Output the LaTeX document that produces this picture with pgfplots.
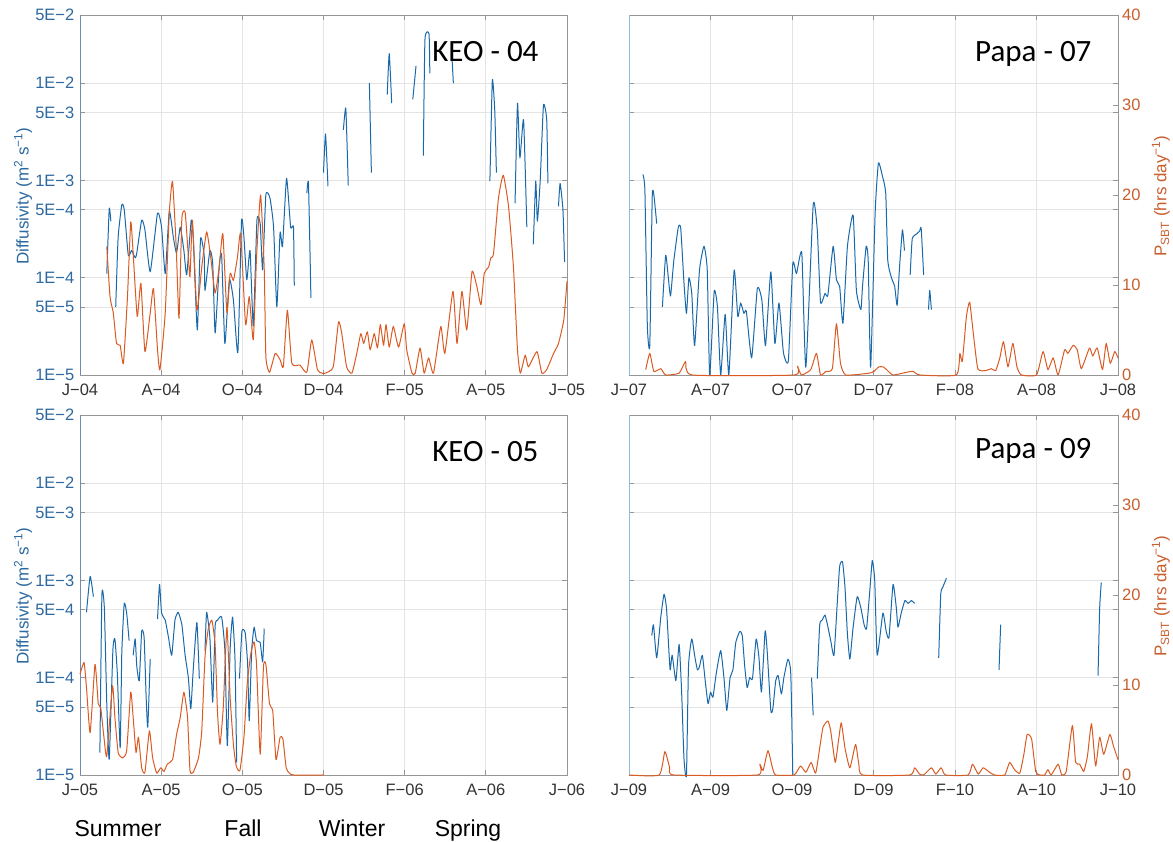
\documentclass[border=0pt]{standalone}
\usepackage{fontspec}
\setmainfont{Liberation Sans}
\newfontfamily\titlefont{Carlito}
\usepackage{pgfplots}
\pgfplotsset{compat=1.18}
\definecolor{mblue}{RGB}{25,105,170}
\definecolor{mtick}{RGB}{45,105,160}
\definecolor{morange}{RGB}{217,90,35}
\definecolor{otick}{RGB}{200,95,45}
\definecolor{gridc}{RGB}{228,228,228}
\definecolor{axc}{RGB}{150,150,150}
\definecolor{lblue}{RGB}{140,185,220}
\definecolor{sblue}{RGB}{110,140,175}
\newcommand\tks{\fontsize{16.5}{18}\selectfont}
\pgfplotsset{
  dcosm/.style={scale only axis, height=360pt, xmin=0, xmax=12,
    xtick={0,2,4,6,8,10,12},
    xmajorgrids, ymajorgrids,
    major grid style={draw=gridc, line width=0.7pt},
    axis line style={draw=axc, line width=0.9pt},
    major tick style={draw=axc, line width=0.7pt},
    major tick length=5pt, tick align=inside,
    yticklabel style={font=\tks, text=mtick, inner sep=1pt, xshift=-4.5pt},
    xticklabel style={font=\tks, text=black!80, yshift=-8pt, inner sep=1pt},
    unbounded coords=jump, clip=false},
  bluel/.style={line width=1.0pt, line join=round, color=mblue, smooth, tension=0.3},
  orl/.style={line width=1.0pt, line join=round, color=morange, smooth, tension=0.3},
  ocosm/.style={scale only axis, height=360pt, xmin=0, xmax=12, ymin=0, ymax=40, clip=false},
  prcosm/.style={ytick={0,10,20,30,40}, yticklabels={0,10,20,30,40},
    yticklabel style={font=\tks, text=otick, inner sep=1pt, xshift=3pt},
    axis line style={draw=axc, line width=0.9pt},
    major tick style={draw=axc, line width=0.7pt},
    major tick length=5pt, tick align=inside},
}
\begin{document}
\begin{tikzpicture}[x=1pt,y=1pt]
\useasboundingbox (0,0) rectangle (1173,842);
% ---------------- KEO - 04 ----------------
\begin{axis}[dcosm, ymode=log, ymin=1e-5, ymax=5e-2,
  ytick={1e-5,5e-5,1e-4,5e-4,1e-3,5e-3,1e-2,5e-2},
  yticklabels={1E−5,5E−5,1E−4,5E−4,1E−3,5E−3,1E−2,5E−2}, yminorticks=false,
  at={(80pt,467pt)}, anchor=south west, width=487pt,
  xticklabels={J−04,A−04,O−04,D−04,F−05,A−05,J−05}]
\draw[sblue, line width=0.9pt] (rel axis cs:0,0) -- (rel axis cs:0,1);
\addplot[bluel] coordinates {(0.66,1.1e-4)(0.72,5.1e-4)(0.76,3.8e-4)(0.80,nan)
(0.88,5.0e-5)(0.94,2.6e-4)(1.03,5.6e-4)(1.09,5.0e-4)(1.19,1.7e-4)(1.27,1.9e-4)(1.36,1.6e-4)(1.40,1.8e-4)(1.52,3.9e-4)(1.60,3.1e-4)(1.73,1.15e-4)(1.91,4.6e-4)(2.01,3.3e-4)(2.10,1.1e-4)(2.20,4.8e-4)(2.30,2.6e-4)(2.38,1.8e-4)(2.47,3.3e-4)(2.56,1.9e-4)(2.63,1.07e-4)(2.74,3.9e-4)(2.79,2.6e-4)(2.89,2.9e-5)(2.97,2.5e-4)(3.06,1.7e-4)(3.08,7.4e-5)(3.20,1.9e-4)(3.27,1.4e-4)(3.33,2.7e-5)(3.43,1.3e-4)(3.49,1.7e-4)(3.57,2.1e-5)(3.68,9.5e-5)(3.78,5.9e-5)(3.89,1.7e-5)(3.98,3.8e-4)(4.04,2.6e-4)(4.11,9.5e-5)(4.19,1.9e-4)(4.27,3.2e-5)(4.36,3.9e-4)(4.44,3.6e-4)(4.50,1.2e-4)(4.58,7.1e-4)(4.68,6.6e-4)(4.77,3.3e-4)(4.85,5.0e-5)(4.93,2.9e-4)(4.99,2.1e-4)(5.09,1.05e-3)(5.19,3.3e-4)(5.26,3.3e-4)(5.28,8.3e-5)(5.40,nan)
(5.59,7.4e-4)(5.63,9.3e-4)(5.69,6.2e-5)(5.80,nan)
(6.00,1.2e-3)(6.05,3.0e-3)(6.11,8.7e-4)(6.30,nan)
(6.49,3.3e-3)(6.55,5.5e-3)(6.61,8.9e-4)(6.90,nan)
(7.13,1.0e-2)(7.18,1.2e-3)(7.40,nan)
(7.57,7.6e-3)(7.62,2.0e-2)(7.68,6.2e-3)(7.90,nan)
(8.20,6.8e-3)(8.28,1.5e-2)(8.37,nan)
(8.46,1.8e-3)(8.50,2.8e-2)(8.60,3.2e-2)(8.62,1.26e-2)(8.90,nan)
(9.17,1.7e-2)(9.20,1.0e-2)(9.60,nan)
(10.10,9.8e-4)(10.16,1.07e-2)(10.22,5.2e-3)(10.26,1.2e-3)(10.50,nan)
(10.72,5.8e-4)(10.78,6.2e-3)(10.84,1.7e-3)(10.93,4.2e-3)(11.01,3.3e-4)(11.09,nan)
(11.17,2.2e-4)(11.23,9.8e-4)(11.27,3.8e-4)(11.34,1.0e-3)(11.42,5.9e-3)(11.50,4.2e-3)(11.53,9.3e-4)(11.65,nan)
(11.79,5.4e-4)(11.83,9.3e-4)(11.90,5.0e-4)(11.94,1.45e-4)};
\end{axis}
\begin{axis}[ocosm, hide axis, at={(80pt,467pt)}, anchor=south west, width=487pt]
\addplot[orl] coordinates {(0.66,14.3)(0.74,8.7)(0.82,6.9)(0.90,3.5)(0.99,3.3)(1.07,1.3)(1.17,8.7)(1.25,17.0)(1.31,13.5)(1.41,6.5)(1.50,10.2)(1.60,2.6)(1.73,6.9)(1.81,9.6)(1.91,2.8)(1.97,0.6)(2.10,6.9)(2.20,18.0)(2.28,21.5)(2.37,14.3)(2.44,6.3)(2.51,17.4)(2.59,18.1)(2.65,14.5)(2.71,10.9)(2.77,17.2)(2.88,7.2)(3.00,12.0)(3.12,15.9)(3.22,13.1)(3.33,9.1)(3.43,12.0)(3.52,15.7)(3.62,6.9)(3.70,11.3)(3.78,10.5)(3.88,13.1)(3.96,15.7)(4.08,5.6)(4.17,8.7)(4.27,3.9)(4.35,13.1)(4.45,20.0)(4.54,11.7)(4.58,2.0)(4.67,0.3)(4.81,2.4)(4.93,1.7)(5.01,0.9)(5.11,7.2)(5.22,1.3)(5.42,1.1)(5.59,0.3)(5.71,3.9)(5.85,0.6)(5.96,0.2)(6.04,0.2)(6.24,0.9)(6.37,5.9)(6.45,4.6)(6.57,0.9)(6.70,0.2)(6.82,2.4)(6.92,4.6)(6.99,3.5)(7.08,4.8)(7.15,2.8)(7.25,4.6)(7.33,3.0)(7.40,5.6)(7.48,3.3)(7.54,5.6)(7.62,3.1)(7.72,5.4)(7.85,3.1)(7.99,5.7)(8.05,2.8)(8.18,0.2)(8.26,0.2)(8.38,3.0)(8.48,0.2)(8.59,1.9)(8.71,0.2)(8.89,5.4)(8.99,2.4)(9.19,9.3)(9.29,3.5)(9.41,9.3)(9.53,5.0)(9.66,11.5)(9.78,9.8)(9.88,7.8)(9.96,11.3)(10.07,12.0)(10.12,13.0)(10.19,13.5)(10.31,19.6)(10.43,22.2)(10.56,18.7)(10.68,12.0)(10.78,2.8)(10.85,0.2)(10.97,2.2)(11.05,0.9)(11.26,2.6)(11.38,0.2)(11.50,0.6)(11.67,2.4)(11.79,3.5)(11.92,6.1)(12.00,10.4)};
\end{axis}
% ---------------- Papa - 07 ----------------
\begin{axis}[dcosm, ymode=log, ymin=1e-5, ymax=5e-2,
  ytick={1e-5,5e-5,1e-4,5e-4,1e-3,5e-3,1e-2,5e-2},
  yticklabels={,,,,,,,}, yminorticks=false,
  at={(629pt,467pt)}, anchor=south west, width=489pt,
  xticklabels={J−07,A−07,O−07,D−07,F−08,A−08,J−08}]
\draw[lblue, line width=0.9pt] (rel axis cs:0,0) -- (rel axis cs:0,1);
\addplot[bluel] coordinates {(0.34,1.15e-3)(0.39,7.9e-4)(0.45,3.2e-5)(0.51,2.0e-5)(0.57,6.8e-4)(0.61,7.1e-4)(0.68,3.6e-4)(0.75,nan)
(0.82,5.0e-5)(0.90,1.7e-4)(0.97,9.5e-5)(1.02,6.5e-5)(1.10,1.5e-4)(1.21,3.3e-4)(1.27,3.2e-4)(1.35,8.7e-5)(1.41,4.3e-5)(1.47,1.0e-4)(1.54,6.9e-5)(1.61,2.0e-5)(1.73,1.2e-4)(1.84,2.1e-4)(1.92,1.2e-4)(1.98,1.0e-5)(2.09,7.2e-5)(2.17,5.0e-5)(2.25,1.0e-5)(2.36,4.2e-5)(2.45,1.0e-5)(2.58,1.2e-4)(2.67,4.0e-5)(2.74,5.5e-5)(2.82,4.3e-5)(2.88,4.5e-5)(3.01,1.5e-5)(3.15,7.8e-5)(3.26,5.9e-5)(3.35,2.0e-5)(3.48,1.15e-4)(3.58,2.1e-5)(3.68,5.5e-5)(3.79,1.7e-5)(3.91,1.4e-5)(4.02,1.4e-4)(4.11,1.1e-4)(4.24,1.8e-4)(4.34,1.2e-5)(4.52,5.6e-4)(4.62,3.1e-4)(4.70,5.6e-5)(4.81,6.9e-5)(4.88,6.6e-5)(5.01,2.1e-4)(5.09,9.5e-5)(5.17,8.1e-5)(5.25,3.4e-5)(5.36,2.1e-4)(5.50,4.4e-4)(5.58,7.4e-5)(5.69,4.7e-5)(5.73,8.1e-5)(5.82,2.1e-4)(5.87,1.5e-4)(5.93,1.2e-5)(6.04,4.6e-4)(6.12,1.5e-3)(6.22,1.1e-3)(6.30,7.4e-4)(6.35,1.5e-4)(6.44,1.0e-4)(6.52,8.1e-5)(6.58,5.2e-5)(6.64,1.3e-4)(6.71,3.1e-4)(6.76,1.9e-4)(6.83,nan)
(6.90,1.07e-4)(6.95,2.5e-4)(7.05,2.8e-4)(7.13,3.0e-4)(7.17,3.2e-4)(7.23,1.07e-4)(7.29,nan)
(7.35,4.7e-5)(7.38,7.4e-5)(7.42,4.7e-5)};
\end{axis}
\begin{axis}[ocosm, prcosm, axis y line*=right, axis x line=none,
  at={(629pt,467pt)}, anchor=south west, width=489pt]
\addplot[orl] coordinates {(0.41,0.6)(0.51,2.4)(0.61,0.4)(0.78,0.7)(0.90,0)(1.23,0.2)(1.39,1.5)(1.55,0)(4.05,0)(4.13,1.0)(4.23,0)(4.46,0.6)(4.60,2.4)(4.70,0)(4.83,0.4)(4.99,0.7)(5.09,5.7)(5.19,1.3)(5.32,0)(5.89,0.2)(6.01,0.4)(6.13,0.9)(6.24,0.9)(6.32,0.6)(6.48,0)(6.81,0.3)(6.97,0.4)(7.14,0)(8.03,0)(8.12,2.4)(8.18,1.5)(8.28,6.5)(8.36,8.1)(8.44,5.0)(8.56,0.7)(8.76,0.5)(8.89,0.7)(9.00,0.5)(9.10,1.9)(9.19,3.7)(9.30,0.9)(9.42,3.5)(9.52,0.9)(9.63,0)(10.00,0)(10.16,2.6)(10.28,0.6)(10.41,1.9)(10.53,0)(10.69,2.8)(10.77,2.4)(10.90,3.3)(11.00,2.8)(11.10,0.7)(11.30,3.0)(11.38,2.1)(11.49,3.0)(11.62,0.6)(11.71,3.5)(11.81,1.3)(11.92,2.6)(12.00,1.9)};
\end{axis}
% ---------------- KEO - 05 ----------------
\begin{axis}[dcosm, ymode=log, ymin=1e-5, ymax=5e-2,
  ytick={1e-5,5e-5,1e-4,5e-4,1e-3,5e-3,1e-2,5e-2},
  yticklabels={1E−5,5E−5,1E−4,5E−4,1E−3,5E−3,1E−2,5E−2}, yminorticks=false,
  at={(80pt,67pt)}, anchor=south west, width=487pt,
  xticklabels={J−05,A−05,O−05,D−05,F−06,A−06,J−06}]
\draw[sblue, line width=0.9pt] (rel axis cs:0,0) -- (rel axis cs:0,1);
\addplot[bluel] coordinates {(0.16,4.7e-4)(0.25,1.1e-3)(0.33,6.8e-4)(0.41,nan)
(0.49,1.7e-5)(0.54,7.2e-4)(0.60,5.2e-4)(0.66,5.4e-5)(0.72,1.45e-5)(0.81,1.9e-4)(0.86,2.5e-4)(0.92,1.1e-4)(0.99,1.9e-5)(1.03,1.8e-4)(1.09,5.8e-4)(1.15,4.6e-4)(1.21,2.4e-4)(1.26,nan)
(1.31,1.7e-4)(1.36,2.5e-4)(1.40,1.3e-4)(1.46,9.3e-5)(1.52,3.0e-4)(1.58,2.6e-4)(1.63,6.3e-5)(1.67,3.1e-5)(1.73,1.55e-4)(1.82,nan)
(1.91,4.0e-4)(1.96,9.1e-4)(2.01,4.6e-4)(2.10,3.9e-4)(2.18,2.6e-4)(2.26,1.7e-4)(2.34,3.9e-4)(2.42,4.7e-4)(2.51,3.5e-4)(2.59,1.7e-4)(2.67,1.0e-4)(2.73,4.8e-5)(2.79,1.2e-4)(2.88,3.7e-4)(2.94,9.8e-5)(3.01,nan)
(3.08,1.9e-4)(3.12,4.7e-4)(3.20,2.6e-4)(3.27,5.6e-5)(3.33,3.4e-4)(3.39,3.9e-4)(3.49,4.2e-4)(3.57,1.9e-4)(3.63,2.0e-5)(3.70,2.0e-4)(3.76,4.2e-4)(3.82,1.5e-4)(3.86,1.35e-5)(3.90,nan)
(3.93,9.8e-5)(3.99,3.0e-4)(4.07,2.9e-4)(4.13,1.4e-4)(4.17,3.6e-5)(4.23,1.9e-4)(4.29,3.3e-4)(4.35,2.4e-4)(4.44,2.3e-4)(4.50,1.45e-4)(4.54,3.2e-4)};
\end{axis}
\begin{axis}[ocosm, hide axis, at={(80pt,67pt)}, anchor=south west, width=487pt]
\addplot[orl] coordinates {(0,11.2)(0.10,12.5)(0.16,9.7)(0.25,4.7)(0.37,12.3)(0.45,7.9)(0.51,7.5)(0.59,4.2)(0.66,2.1)(0.80,9.9)(0.86,6.4)(0.94,2.5)(1.05,1.9)(1.15,2.7)(1.25,9.2)(1.31,6.4)(1.38,2.5)(1.44,4.2)(1.52,0.8)(1.60,0.3)(1.71,4.9)(1.79,1.9)(1.89,0.2)(1.99,0.8)(2.07,0.4)(2.15,1.2)(2.28,1.7)(2.38,4.5)(2.47,6.4)(2.56,9.2)(2.65,6.4)(2.71,0.5)(2.79,0.3)(2.92,1.9)(3.00,4.9)(3.08,13.1)(3.16,16.2)(3.25,17.2)(3.33,14.4)(3.39,6.8)(3.45,3.4)(3.53,7.5)(3.62,16.4)(3.70,8.6)(3.78,3.4)(3.85,1.0)(3.94,0.5)(4.04,4.2)(4.12,10.1)(4.21,13.5)(4.29,14.8)(4.35,12.3)(4.44,2.3)(4.52,12.0)(4.58,12.3)(4.67,7.9)(4.75,7.1)(4.83,1.7)(4.93,4.2)(5.00,4.0)(5.08,0.8)(5.16,0.2)(5.26,0)(6.00,0)};
\end{axis}
% ---------------- Papa - 09 ----------------
\begin{axis}[dcosm, ymode=log, ymin=1e-5, ymax=5e-2,
  ytick={1e-5,5e-5,1e-4,5e-4,1e-3,5e-3,1e-2,5e-2},
  yticklabels={,,,,,,,}, yminorticks=false,
  at={(629pt,67pt)}, anchor=south west, width=489pt,
  xticklabels={J−09,A−09,O−09,D−09,F−10,A−10,J−10}]
\draw[lblue, line width=0.9pt] (rel axis cs:0,0) -- (rel axis cs:0,1);
\addplot[bluel] coordinates {(0.56,2.7e-4)(0.60,3.5e-4)(0.68,1.6e-4)(0.78,4.2e-4)(0.86,7.2e-4)(0.92,5.2e-4)(0.97,2.2e-4)(1.01,1.2e-4)(1.06,1.7e-4)(1.15,9.3e-5)(1.23,2.2e-4)(1.29,7.4e-5)(1.35,1.45e-5)
(1.41,1.0e-5)(1.46,1.3e-4)(1.54,2.5e-4)(1.62,1.6e-4)(1.68,1.2e-4)(1.73,1.3e-4)(1.80,1.7e-4)(1.87,9.3e-5)(1.94,5.4e-5)(2.00,7.1e-5)(2.06,6.3e-5)(2.14,1.1e-4)(2.25,1.9e-4)(2.33,1.0e-4)(2.40,4.6e-5)(2.48,1.0e-4)(2.55,1.2e-4)(2.62,2.3e-4)(2.72,3.0e-4)(2.78,2.7e-4)(2.84,1.3e-4)(2.90,7.9e-5)(2.96,1.0e-4)(3.03,9.8e-5)(3.12,2.5e-4)(3.19,1.6e-4)(3.25,7.1e-5)(3.34,3.0e-4)(3.39,1.9e-4)(3.48,4.6e-5)(3.53,4.8e-5)(3.60,9.3e-5)(3.66,1.05e-4)(3.74,6.8e-5)(3.80,1.0e-4)(3.90,1.55e-4)(3.97,1.1e-4)(4.02,1.0e-5)(4.20,nan)
(4.48,1.0e-4)(4.52,4.1e-5)(4.57,nan)
(4.62,9.8e-5)(4.68,3.5e-4)(4.74,3.9e-4)(4.81,4.4e-4)(4.87,3.5e-4)(4.95,2.4e-4)(5.03,1.7e-4)(5.11,5.8e-4)(5.17,1.4e-3)(5.24,1.55e-3)(5.30,8.5e-4)(5.36,2.8e-4)(5.42,1.55e-4)(5.50,3.3e-4)(5.60,6.8e-4)(5.69,5.2e-4)(5.77,3.5e-4)(5.83,3.2e-4)(5.91,7.9e-4)(5.97,1.6e-3)(6.03,1.0e-3)(6.09,1.7e-4)(6.23,4.6e-4)(6.31,3.0e-4)(6.38,2.6e-4)(6.48,9.1e-4)(6.56,5.2e-4)(6.60,3.3e-4)(6.68,4.6e-4)(6.77,6.2e-4)(6.85,5.8e-4)(6.93,6.2e-4)(7.01,5.8e-4)(7.30,nan)
(7.60,1.6e-4)(7.65,7.2e-4)(7.70,8.5e-4)(7.79,1.05e-3)(8.50,nan)
(9.08,1.2e-4)(9.12,3.5e-4)(10.00,nan)
(11.51,1.05e-4)(11.55,5.2e-4)(11.59,9.5e-4)};
\end{axis}
\begin{axis}[ocosm, prcosm, axis y line*=right, axis x line=none,
  at={(629pt,67pt)}, anchor=south west, width=489pt]
\addplot[orl] coordinates {(0,0)(0.74,0)(0.88,2.6)(1.00,0.8)(1.10,0)(3.15,0)(3.21,1.2)(3.29,0.5)(3.41,2.7)(3.52,0.8)(3.60,0)(4.05,0)(4.21,1.0)(4.34,0.3)(4.47,1.4)(4.58,0.2)(4.68,3.0)(4.76,5.3)(4.88,6.0)(4.95,4.9)(5.06,1.4)(5.14,3.8)(5.21,5.8)(5.30,3.0)(5.42,0.8)(5.56,3.4)(5.64,1.2)(5.73,0)(6.89,0)(7.01,0.8)(7.13,0.1)(7.23,0)(7.42,0.8)(7.53,0.1)(7.66,0.8)(7.77,0)(8.32,0)(8.43,1.2)(8.57,0.1)(8.69,0.8)(8.85,0.3)(8.97,0)(9.22,0)(9.34,1.4)(9.46,0.6)(9.59,0.2)(9.69,2.3)(9.77,4.5)(9.88,4.0)(9.98,0.4)(10.08,0)(10.20,0)(10.28,0.6)(10.36,0)(10.53,1.2)(10.62,0)(10.73,0.4)(10.88,5.5)(10.96,1.4)(11.06,1.2)(11.16,0.4)(11.25,2.1)(11.35,5.7)(11.45,1.0)(11.55,4.2)(11.65,2.3)(11.80,4.5)(11.89,3.2)(12.00,1.7)};
\end{axis}
% ---------------- labels ----------------
\node[anchor=base east, font=\titlefont\fontsize{31}{34}\selectfont] at (542,780) {KEO - 04};
\node[anchor=base east, font=\titlefont\fontsize{31}{34}\selectfont] at (1095,780) {Papa - 07};
\node[anchor=base east, font=\titlefont\fontsize{31}{34}\selectfont] at (542,380) {KEO - 05};
\node[anchor=base east, font=\titlefont\fontsize{31}{34}\selectfont] at (1095,383) {Papa - 09};
\node[rotate=90, text=mtick, font=\fontsize{17}{19}\selectfont] at (23,646) {Diffusivity (m\textsuperscript{2} s\textsuperscript{−1})};
\node[rotate=90, text=mtick, font=\fontsize{17}{19}\selectfont] at (23,246) {Diffusivity (m\textsuperscript{2} s\textsuperscript{−1})};
\node[rotate=90, text=otick, font=\fontsize{17}{19}\selectfont] at (1161,646) {P\textsubscript{SBT} (hrs day\textsuperscript{−1})};
\node[rotate=90, text=otick, font=\fontsize{17}{19}\selectfont] at (1161,246) {P\textsubscript{SBT} (hrs day\textsuperscript{−1})};
\node[anchor=base, font=\fontsize{23}{26}\selectfont] at (118,5) {Summer};
\node[anchor=base, font=\fontsize{23}{26}\selectfont] at (243,5) {Fall};
\node[anchor=base, font=\fontsize{23}{26}\selectfont] at (352,5) {Winter};
\node[anchor=base, font=\fontsize{23}{26}\selectfont] at (468,5) {Spring};
\end{tikzpicture}
\end{document}
